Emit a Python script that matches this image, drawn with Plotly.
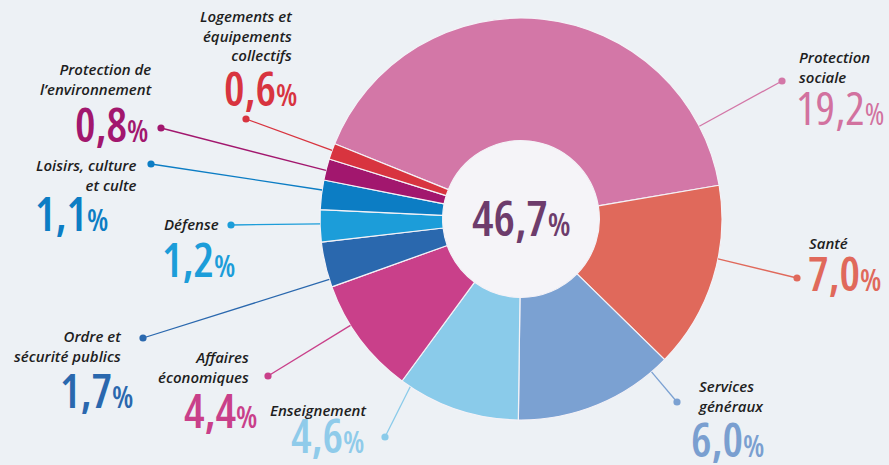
import math
import plotly.graph_objects as go

# Dépenses publiques par fonction, en % du PIB
categories = [
    "Protection sociale",
    "Santé",
    "Services généraux",
    "Enseignement",
    "Affaires économiques",
    "Ordre et sécurité publics",
    "Défense",
    "Loisirs, culture et culte",
    "Protection de l'environnement",
    "Logements et équipements collectifs",
]
values = [19.2, 7.0, 6.0, 4.6, 4.4, 1.7, 1.2, 1.1, 0.8, 0.6]
total_label = "46,7"

# Label text as printed (line breaks included)
label_texts = [
    "Protection<br>sociale",
    "Santé",
    "Services<br>généraux",
    "Enseignement",
    "Affaires<br>économiques",
    "Ordre et<br>sécurité publics",
    "Défense",
    "Loisirs, culture<br>et culte",
    "Protection de<br>l’environnement",
    "Logements et<br>équipements<br>collectifs",
]

colors = ["#D377A7", "#E0695B", "#7BA1D2", "#8ACBEA", "#C9408A",
          "#2A68AE", "#1C9DD9", "#0C7DC4", "#A2176E", "#D8343F"]
number_colors = ["#D2729F", "#E0695B", "#7A9FD0", "#8FCBEA", "#C9408A",
                 "#2A68AE", "#1C9DD9", "#0C7DC4", "#A2176E", "#D8343F"]

W, H = 889, 465
CX, CY, R = 521, 219, 201          # donut centre and outer radius (px)
HOLE = 0.39
ROTATION = 292                     # start angle of the first slice (deg, clockwise from 12 o'clock)

# Callout layout (pixels): name anchor, number anchor, dot, and where along
# its slice the leader line meets the ring (0 = start, 1 = end)
callouts = [
    dict(name=(797, 67, "left"), num=(794, 107, "left"), dot=(782, 81), frac=0.88),
    dict(name=(807, 243, "left"), num=(806, 273, "left"), dot=(797, 278), frac=0.39),
    dict(name=(696, 396, "left"), num=(689, 439, "left"), dot=(677, 402), frac=0.11),
    dict(name=(268, 410, "left"), num=(289, 435, "left"), dot=(385, 437), frac=0.92),
    dict(name=(251, 367, "right"), num=(259, 410, "right"), dot=(268, 376), frac=0.64),
    dict(name=(123, 346, "right"), num=(135, 390, "right"), dot=(143, 338), frac=0.17),
    dict(name=(221, 224, "right"), num=(237, 259, "right"), dot=(231, 225), frac=0.56),
    dict(name=(138, 175, "right"), num=(110, 213, "right"), dot=(151, 164), frac=0.66),
    dict(name=(154, 79, "right"), num=(150, 124, "right"), dot=(161, 128), frac=0.45),
    dict(name=(294, 35, "right"), num=(299, 88, "right"), dot=(246, 119), frac=0.56),
]

NUM_FONT = "Open Sans"
COND = "font-stretch:condensed"


def px(x):
    return x / W


def py(y):
    return 1 - y / H


def pct_text(s, pct_size):
    return (f"<span style='{COND}'>{s}</span>"
            f"<span style='{COND};font-size:{pct_size}px'>%</span>")


def fmt(v):
    return f"{v:.1f}".replace(".", ",")


fig = go.Figure()

fig.add_trace(go.Pie(
    labels=categories,
    values=values,
    sort=False,
    direction="clockwise",
    rotation=ROTATION,
    hole=HOLE,
    marker=dict(colors=colors, line=dict(color="#F4F2F7", width=1.2)),
    textinfo="none",
    hoverinfo="label+value",
    showlegend=False,
    domain=dict(x=[px(CX - R), px(CX + R)], y=[py(CY + R), py(CY - R)]),
))

shapes = []
annotations = []

# light disc inside the hole
hr = R * HOLE + 1
shapes.append(dict(type="circle", xref="paper", yref="paper", layer="below",
                   x0=px(CX - hr), x1=px(CX + hr), y0=py(CY + hr), y1=py(CY - hr),
                   fillcolor="#F5F4F8", line=dict(width=0)))

tot = sum(values)
cum = 0.0
for i, v in enumerate(values):
    c = callouts[i]
    ang = math.radians(ROTATION + (cum + c["frac"] * v) / tot * 360)
    cum += v
    ex, ey = CX + R * math.sin(ang), CY - R * math.cos(ang)
    dx, dy = c["dot"]
    shapes.append(dict(type="line", xref="paper", yref="paper",
                       x0=px(ex), y0=py(ey), x1=px(dx), y1=py(dy),
                       line=dict(color=colors[i], width=1.3)))
    rd = 3.6
    shapes.append(dict(type="circle", xref="paper", yref="paper",
                       x0=px(dx - rd), x1=px(dx + rd), y0=py(dy + rd), y1=py(dy - rd),
                       fillcolor=colors[i], line=dict(width=0)))

    nx, ny, side = c["name"]
    annotations.append(dict(
        x=px(nx), y=py(ny), xref="paper", yref="paper", showarrow=False,
        xanchor=side, yanchor="middle", align=side,
        text=label_texts[i],
        font=dict(family="Open Sans", size=15, color="#1E1E1E",
                  style="italic", weight=600),
    ))
    mx, my, side = c["num"]
    annotations.append(dict(
        x=px(mx), y=py(my), xref="paper", yref="paper", showarrow=False,
        xanchor=side, yanchor="middle", align=side,
        text=pct_text(fmt(v), 30),
        font=dict(family=NUM_FONT, size=46, color=number_colors[i],
                  weight=(400 if i == 0 else 600)),
    ))

annotations.append(dict(
    x=px(CX), y=py(CY - 1), xref="paper", yref="paper", showarrow=False,
    xanchor="center", yanchor="middle",
    text=pct_text(total_label, 32),
    font=dict(family=NUM_FONT, size=48, color="#6D3C6C", weight=600),
))

fig.update_layout(
    width=W, height=H,
    margin=dict(l=0, r=0, t=0, b=0),
    paper_bgcolor="#EDF1F5",
    plot_bgcolor="#EDF1F5",
    shapes=shapes,
    annotations=annotations,
)

fig.write_html("out.html")
